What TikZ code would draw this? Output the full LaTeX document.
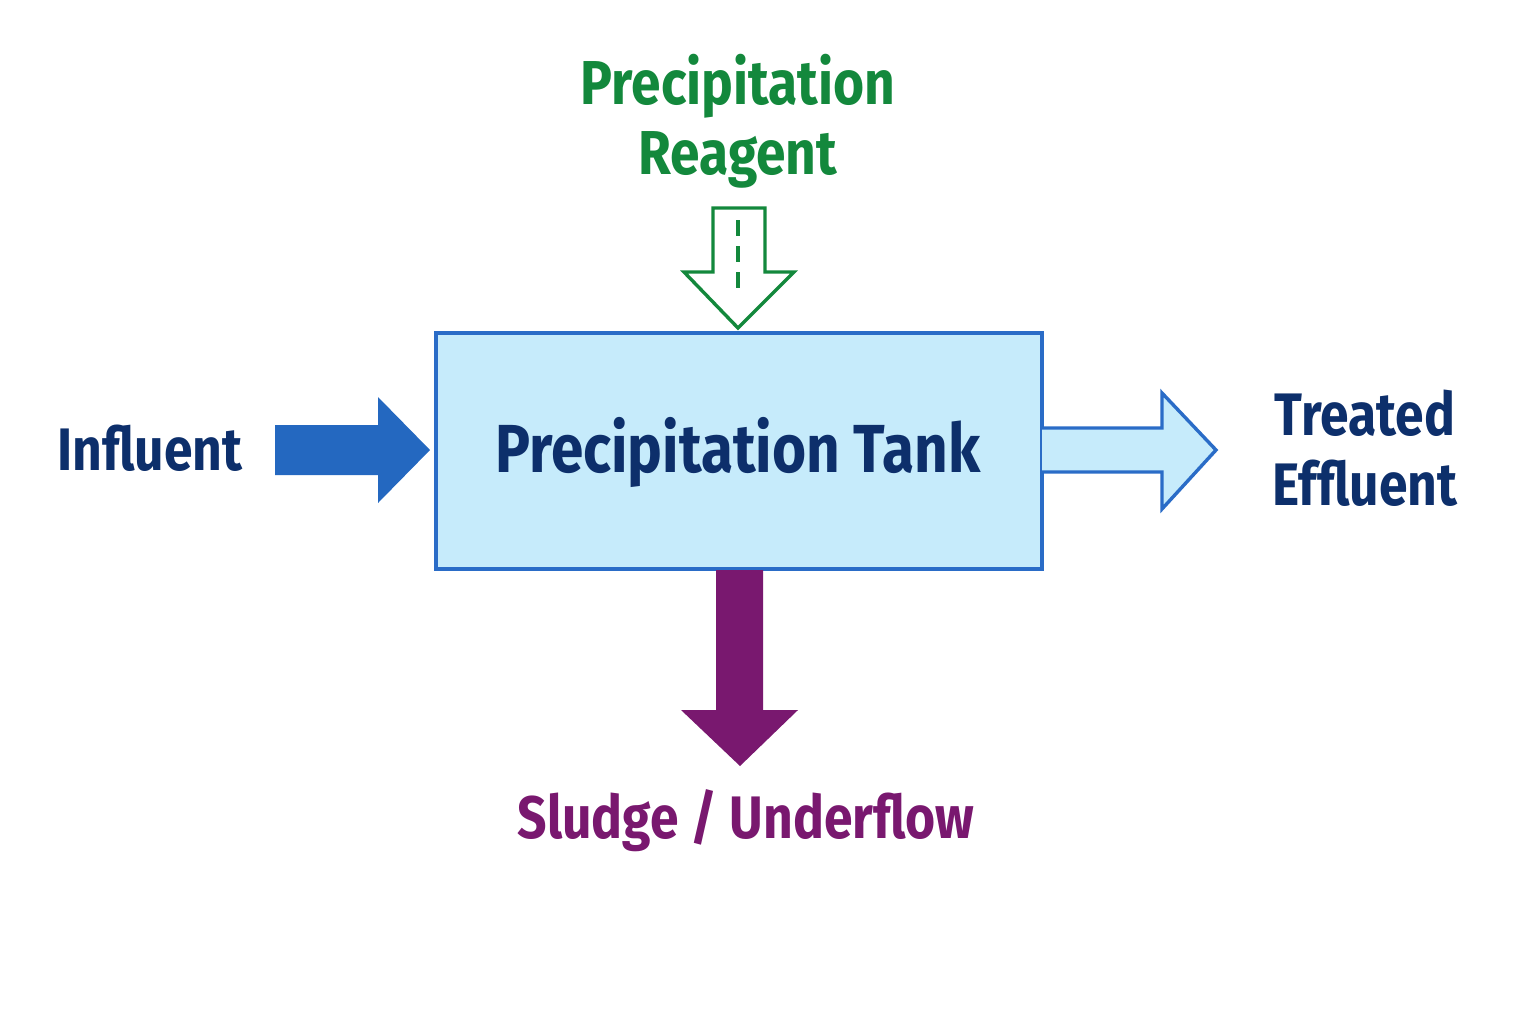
\documentclass[tikz,border=0pt]{standalone}
\usepackage{fontspec}
\setmainfont{Fira Sans}
\usetikzlibrary{positioning}
\definecolor{navy}{HTML}{0D2F6B}
\definecolor{tankfill}{HTML}{C6EBFB}
\definecolor{tankline}{HTML}{2A6CC7}
\definecolor{inblue}{HTML}{2468C0}
\definecolor{reagent}{HTML}{13883C}
\definecolor{sludge}{HTML}{79186F}
\newcommand{\narrow}[1]{\scalebox{0.86}[1]{#1}}
\begin{document}
\begin{tikzpicture}[x=0.5pt,y=-0.5pt,
    label/.style ={font=\bfseries\fontsize{30}{36}\selectfont, align=center, inner sep=0pt},
    tank/.style ={draw=tankline, fill=tankfill, line width=2.2pt, minimum width=303pt, minimum height=118pt, inner sep=0pt}]
   \useasboundingbox (0,0) rectangle (1536,1024);

   \node[tank] (T) at (739,451) {};
   \node[label, text=navy, font=\bfseries\fontsize{34}{40}\selectfont] (Tt) at (738,452) {\narrow{Precipitation Tank}};

   % influent
   \fill[inblue] (275,425) -- (378,425) -- (378,397) -- (430,450) -- (378,503) -- (378,475) -- (275,475) -- cycle;
   \node[label, text=navy] (In) at (150,448) {\narrow{Influent}};

   % treated effluent
   \filldraw[draw=tankline, fill=tankfill, line width=1.7pt] (1042,428) -- (1162,428) -- (1162,393) -- (1216,450) -- (1162,509) -- (1162,472) -- (1042,472);
   \node[label, text=navy, font=\bfseries\fontsize{30}{35}\selectfont] (Out) at (1365,448) {\narrow{Treated}\\\narrow{Effluent}};

   % reagent
   \draw[reagent, fill=white, line width=1.7pt] (713,208) -- (765,208) -- (765,272) -- (794,272) -- (738,328) -- (684,272) -- (713,272) -- cycle;
   \draw[reagent, line width=2.2pt, dash pattern=on 8pt off 5pt] (738,220) -- (738,296);
   \node[label, text=reagent, font=\bfseries\fontsize{31}{35}\selectfont] (Re) at (738,121) {\narrow{Precipitation}\\\narrow{Reagent}};

   % sludge
   \fill[sludge] (716,570) -- (763,570) -- (763,710) -- (798,710) -- (740,766) -- (681,710) -- (716,710) -- cycle;
   \node[label, text=sludge] (Sl) at (746,821) {\narrow{Sludge / Underflow}};
 \end{tikzpicture}
\end{document}
